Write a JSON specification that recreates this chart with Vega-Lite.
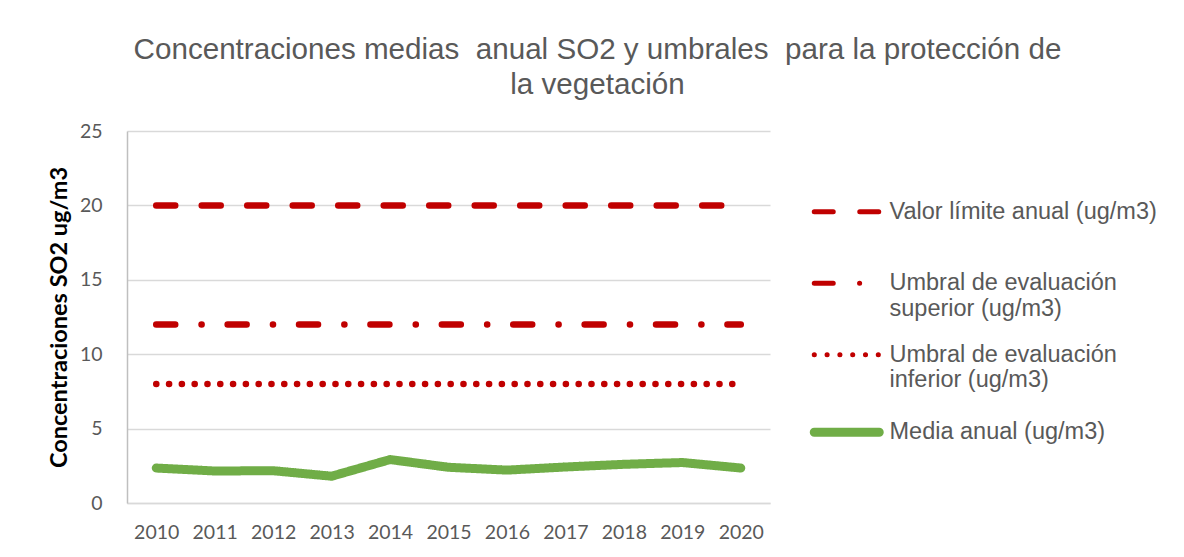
{
  "$schema": "https://vega.github.io/schema/vega-lite/v6.json",
  "autosize": {"type": "none"},
  "width": 643,
  "height": 372,
  "padding": {"left": 127, "top": 131, "right": 414, "bottom": 54},
  "background": "white",
  "title": {
    "text": ["Concentraciones medias\u00a0 anual SO2 y umbrales\u00a0 para la protección de", "la vegetación"],
    "anchor": "middle",
    "frame": "group",
    "dx": 149,
    "offset": 20,
    "font": "Liberation Sans",
    "fontSize": 29.6,
    "fontWeight": "normal",
    "color": "#595959",
    "lineHeight": 35
  },
  "data": {
    "values": [
      {"series": "Valor límite anual (ug/m3)", "year": "2010", "value": 20},
      {"series": "Valor límite anual (ug/m3)", "year": "2011", "value": 20},
      {"series": "Valor límite anual (ug/m3)", "year": "2012", "value": 20},
      {"series": "Valor límite anual (ug/m3)", "year": "2013", "value": 20},
      {"series": "Valor límite anual (ug/m3)", "year": "2014", "value": 20},
      {"series": "Valor límite anual (ug/m3)", "year": "2015", "value": 20},
      {"series": "Valor límite anual (ug/m3)", "year": "2016", "value": 20},
      {"series": "Valor límite anual (ug/m3)", "year": "2017", "value": 20},
      {"series": "Valor límite anual (ug/m3)", "year": "2018", "value": 20},
      {"series": "Valor límite anual (ug/m3)", "year": "2019", "value": 20},
      {"series": "Valor límite anual (ug/m3)", "year": "2020", "value": 20},
      {"series": "Umbral de evaluación superior (ug/m3)", "year": "2010", "value": 12},
      {"series": "Umbral de evaluación superior (ug/m3)", "year": "2011", "value": 12},
      {"series": "Umbral de evaluación superior (ug/m3)", "year": "2012", "value": 12},
      {"series": "Umbral de evaluación superior (ug/m3)", "year": "2013", "value": 12},
      {"series": "Umbral de evaluación superior (ug/m3)", "year": "2014", "value": 12},
      {"series": "Umbral de evaluación superior (ug/m3)", "year": "2015", "value": 12},
      {"series": "Umbral de evaluación superior (ug/m3)", "year": "2016", "value": 12},
      {"series": "Umbral de evaluación superior (ug/m3)", "year": "2017", "value": 12},
      {"series": "Umbral de evaluación superior (ug/m3)", "year": "2018", "value": 12},
      {"series": "Umbral de evaluación superior (ug/m3)", "year": "2019", "value": 12},
      {"series": "Umbral de evaluación superior (ug/m3)", "year": "2020", "value": 12},
      {"series": "Umbral de evaluación inferior (ug/m3)", "year": "2010", "value": 8},
      {"series": "Umbral de evaluación inferior (ug/m3)", "year": "2011", "value": 8},
      {"series": "Umbral de evaluación inferior (ug/m3)", "year": "2012", "value": 8},
      {"series": "Umbral de evaluación inferior (ug/m3)", "year": "2013", "value": 8},
      {"series": "Umbral de evaluación inferior (ug/m3)", "year": "2014", "value": 8},
      {"series": "Umbral de evaluación inferior (ug/m3)", "year": "2015", "value": 8},
      {"series": "Umbral de evaluación inferior (ug/m3)", "year": "2016", "value": 8},
      {"series": "Umbral de evaluación inferior (ug/m3)", "year": "2017", "value": 8},
      {"series": "Umbral de evaluación inferior (ug/m3)", "year": "2018", "value": 8},
      {"series": "Umbral de evaluación inferior (ug/m3)", "year": "2019", "value": 8},
      {"series": "Umbral de evaluación inferior (ug/m3)", "year": "2020", "value": 8},
      {"series": "Media anual (ug/m3)", "year": "2010", "value": 2.35},
      {"series": "Media anual (ug/m3)", "year": "2011", "value": 2.15},
      {"series": "Media anual (ug/m3)", "year": "2012", "value": 2.17},
      {"series": "Media anual (ug/m3)", "year": "2013", "value": 1.8},
      {"series": "Media anual (ug/m3)", "year": "2014", "value": 2.92},
      {"series": "Media anual (ug/m3)", "year": "2015", "value": 2.4},
      {"series": "Media anual (ug/m3)", "year": "2016", "value": 2.21},
      {"series": "Media anual (ug/m3)", "year": "2017", "value": 2.42},
      {"series": "Media anual (ug/m3)", "year": "2018", "value": 2.6},
      {"series": "Media anual (ug/m3)", "year": "2019", "value": 2.72},
      {"series": "Media anual (ug/m3)", "year": "2020", "value": 2.35}
    ]
  },
  "mark": {"type": "line", "strokeCap": "round", "strokeJoin": "round"},
  "encoding": {
    "x": {
      "field": "year",
      "type": "ordinal",
      "scale": {"type": "point", "padding": 0.5},
      "axis": {
        "title": null,
        "labelAngle": 0,
        "labelFont": "Lato",
        "labelFontSize": 19.5,
        "labelColor": "#595959",
        "labelPadding": 20,
        "ticks": false,
        "domainColor": "#D9D9D9",
        "domainWidth": 1.5,
        "grid": false
      }
    },
    "y": {
      "field": "value",
      "type": "quantitative",
      "scale": {"domain": [0, 25], "nice": false},
      "axis": {
        "title": "Concentraciones SO2 ug/m3",
        "titleFont": "Lato",
        "titleFontSize": 23.5,
        "titleFontWeight": "bold",
        "titleColor": "#000000",
        "titlePadding": 8,
        "values": [0, 5, 10, 15, 20, 25],
        "labelFont": "Lato",
        "labelFontSize": 19.5,
        "labelColor": "#595959",
        "labelPadding": 25,
        "ticks": false,
        "domainColor": "#BFBFBF",
        "domainWidth": 1.5,
        "gridColor": "#D9D9D9",
        "gridWidth": 1.5
      }
    },
    "color": {
      "field": "series",
      "type": "nominal",
      "scale": {
        "domain": ["Valor límite anual (ug/m3)", "Umbral de evaluación superior (ug/m3)", "Umbral de evaluación inferior (ug/m3)", "Media anual (ug/m3)"],
        "range": ["#C00000", "#C00000", "#C00000", "#70AD47"]
      },
      "legend": {
        "title": null,
        "orient": "none",
        "legendX": 708,
        "legendY": 69,
        "symbolType": "M-2.5,0H2.5",
        "symbolSize": 676,
        "symbolStrokeWidth": 9,
        "symbolFillColor": "transparent",
        "labelOffset": 31,
        "labelFont": "Liberation Sans",
        "labelFontSize": 23.5,
        "labelColor": "#595959",
        "labelLineHeight": 26,
        "labelLimit": 400,
        "rowPadding": 21.5,
        "padding": 0,
        "labelExpr": "datum.label == 'Umbral de evaluación superior (ug/m3)' ? ['Umbral de evaluación', 'superior (ug/m3)'] : datum.label == 'Umbral de evaluación inferior (ug/m3)' ? ['Umbral de evaluación', 'inferior (ug/m3)'] : [datum.label, ' ']",
        "encode": {
          "symbols": {
            "update": {
              "fill": {"value": "transparent"},
              "strokeCap": {"value": "round"},
              "strokeWidth": {"signal": "datum.value == 'Media anual (ug/m3)' ? 9 : 5"}
            }
          }
        }
      }
    },
    "strokeDash": {
      "field": "series",
      "type": "nominal",
      "scale": {
        "domain": ["Valor límite anual (ug/m3)", "Umbral de evaluación superior (ug/m3)", "Umbral de evaluación inferior (ug/m3)", "Media anual (ug/m3)"],
        "range": [[19, 26.5], [19, 26.3, 0.1, 26], [0.1, 12.7], [1, 0]]
      },
      "legend": null
    },
    "strokeWidth": {
      "condition": {"test": "datum.series == 'Media anual (ug/m3)'", "value": 9},
      "value": 6.5
    }
  },
  "config": {
    "view": {"stroke": null}
  }
}
